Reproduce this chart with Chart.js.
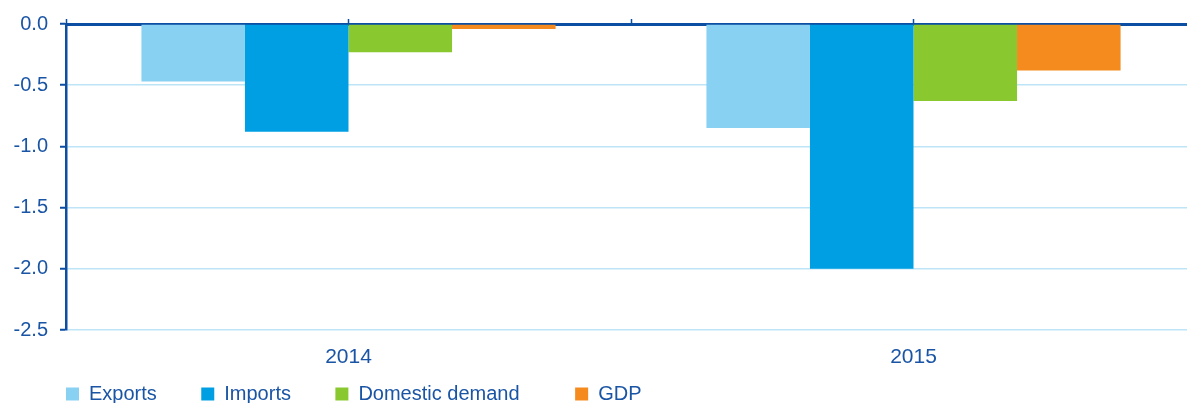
<!DOCTYPE html>
<html>
<head>
<meta charset="utf-8">
<script src="https://cdn.jsdelivr.net/npm/chart.js@4/dist/chart.umd.min.js"></script>
<style>
    html, body { margin: 0; padding: 0; background: #ffffff; overflow: hidden; }
    #chartBox { width: 1196px; height: 403px; }
</style>
</head>
<body>
<div id="chartBox"><canvas id="growthChart" width="1196" height="403"></canvas></div>
<script>
// 数据
const years = ['2014', '2015'];
const seriesNames = ['Exports', 'Imports', 'Domestic demand', 'GDP'];
const exportsValues = [-0.47, -0.85];
const importsValues = [-0.88, -2.0];
const domesticDemandValues = [-0.23, -0.63];
const gdpValues = [-0.04, -0.38];
const yTicks = [0, -0.5, -1.0, -1.5, -2.0, -2.5];

// 颜色
const darkBlue = '#0B4EA2';
const textBlue = '#1A55A5';
const gridBlue = '#BDE5F7';
const fontFamily = '"Liberation Sans", Arial, sans-serif';

// 图例间距（用空格撑开）
const legendGaps = [8, 8, 10, 0];

const ctx = document.getElementById('growthChart').getContext('2d');

window.growthChart = new Chart(ctx, {
    type: 'bar',
    data: {
        labels: years,
        datasets: [
            { label: seriesNames[0], data: exportsValues, backgroundColor: '#89D1F3' },
            { label: seriesNames[1], data: importsValues, backgroundColor: '#009FE3' },
            { label: seriesNames[2], data: domesticDemandValues, backgroundColor: '#89C82F' },
            { label: seriesNames[3], data: gdpValues, backgroundColor: '#F58A1F' }
        ]
    },
    options: {
        responsive: false,
        animation: false,
        devicePixelRatio: 1,
        layout: {
            padding: { top: 18, left: 5, right: 0, bottom: -11 }
        },
        datasets: {
            bar: {
                categoryPercentage: 0.733,
                barPercentage: 1.0,
                borderWidth: 0
            }
        },
        plugins: {
            tooltip: { enabled: false },
            legend: {
                position: 'bottom',
                align: 'start',
                fullSize: false,
                labels: {
                    boxWidth: 13,
                    boxHeight: 13,
                    padding: 0,
                    color: textBlue,
                    font: { family: fontFamily, size: 20 },
                    generateLabels: (chart) => {
                        const items = Chart.defaults.plugins.legend.labels.generateLabels(chart);
                        items.forEach((item, i) => {
                            item.text = item.text + ' '.repeat(legendGaps[i]);
                            item.lineWidth = 0;
                        });
                        return items;
                    }
                }
            }
        },
        scales: {
            x: {
                type: 'category',
                position: 'bottom',
                grid: { display: false, drawTicks: false },
                border: { display: false },
                ticks: {
                    color: textBlue,
                    padding: 15,
                    font: { family: fontFamily, size: 21 }
                },
                afterFit: (axis) => { axis.height = 54; }
            },
            // 顶部零线和刻度（每半个类别一个刻度）
            xTop: {
                type: 'linear',
                position: 'top',
                min: 0,
                max: 4,
                offset: false,
                afterBuildTicks: (axis) => {
                    axis.ticks = [0, 1, 2, 3, 4].map(v => ({ value: v }));
                },
                ticks: { display: false },
                grid: {
                    offset: false,
                    drawOnChartArea: false,
                    tickLength: 5,
                    tickWidth: 1.5,
                    tickColor: darkBlue
                },
                border: { display: true, color: darkBlue, width: 3 }
            },
            y: {
                min: -2.5,
                max: 0,
                afterBuildTicks: (axis) => {
                    axis.ticks = yTicks.map(v => ({ value: v }));
                },
                ticks: {
                    color: textBlue,
                    padding: 12,
                    font: { family: fontFamily, size: 20 },
                    callback: (value) => Number(value).toFixed(1)
                },
                grid: {
                    color: (c) => (c.tick && c.tick.value === 0 ? 'rgba(0,0,0,0)' : gridBlue),
                    lineWidth: 1.5,
                    tickLength: 6,
                    tickColor: darkBlue,
                    tickWidth: 2
                },
                border: { display: true, color: darkBlue, width: 2.5 },
                afterFit: (axis) => { axis.width = 61; }
            }
        }
    }
});
</script>
</body>
</html>
